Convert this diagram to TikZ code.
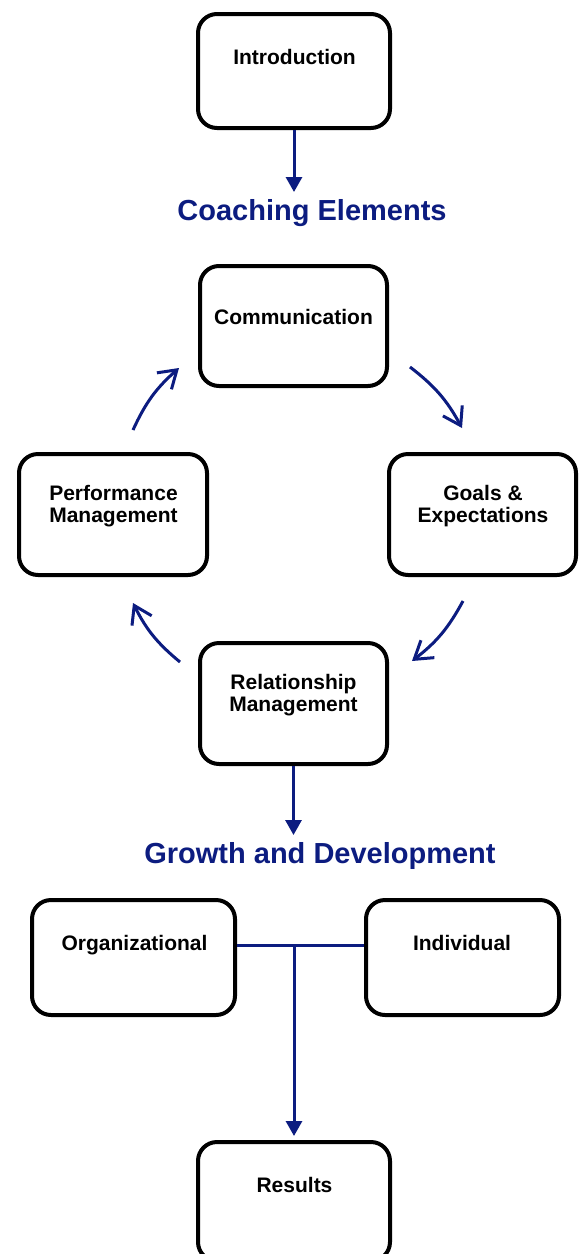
\documentclass[tikz,border=0pt]{standalone}
\usepackage{fontspec}
\setmainfont{Liberation Sans}
\usetikzlibrary{arrows.meta}
\definecolor{navy}{RGB}{12,28,128}
\begin{document}
\begin{tikzpicture}[x=1pt,y=-1pt,
  box/.style={draw=black, line width=4pt, rounded corners=19pt, inner sep=0pt},
  lbl/.style={font=\fontsize{21}{22}\selectfont\bfseries, align=center, anchor=base, inner sep=0pt},
  ttl/.style={font=\fontsize{29}{34}\selectfont\bfseries, text=navy, anchor=base, inner sep=0pt},
  flow/.style={draw=navy, line width=3pt, -{Triangle[length=15pt,width=16pt]}},
  cyc/.style={draw=navy, line width=3pt, -{Straight Barb[length=17pt,width=22pt]}, bend left=12},
  tee/.style={draw=navy, line width=3pt}]
\useasboundingbox[fill=white] (0,0) rectangle (579,1254);
% boxes and labels
\node[box, minimum width=192pt, minimum height=114pt] (intro) at (294,71) {};
\node[lbl] (introl) at (294.5,64) {Introduction};
\node[ttl] (ce) at (312,220) {Coaching Elements};
\node[box, minimum width=187pt, minimum height=120pt] (comm) at (293.5,326) {};
\node[lbl] (comml) at (293.5,324) {Communication};
\node[box, minimum width=188pt, minimum height=121pt] (perf) at (113,514.5) {};
\node[lbl] (perfl) at (113.5,522) {Performance\\Management};
\node[box, minimum width=187pt, minimum height=121pt] (goals) at (482.5,514.5) {};
\node[lbl] (goalsl) at (483,522) {Goals \&\\Expectations};
\node[box, minimum width=187pt, minimum height=121pt] (rel) at (293.5,703.5) {};
\node[lbl] (rell) at (293.5,711) {Relationship\\Management};
\node[ttl] (gd) at (320,863) {Growth and Development};
\node[box, minimum width=203pt, minimum height=115pt] (org) at (133.5,957.5) {};
\node[lbl] (orgl) at (134.5,950) {Organizational};
\node[box, minimum width=193pt, minimum height=115pt] (ind) at (462.5,957.5) {};
\node[lbl] (indl) at (462,950) {Individual};
\node[box, minimum width=192pt, minimum height=119pt] (res) at (294,1201.5) {};
\node[lbl] (resl) at (294.5,1192) {Results};
% straight connectors
\coordinate (t1) at (294,192);
\draw[flow] (intro.south) -- (t1);
\coordinate (t2) at (293.5,835);
\draw[flow] (rel.south) -- (t2);
\coordinate (j) at (294,945);
\draw[tee] (org.east |- j) -- (ind.west |- j);
\draw[flow, shorten >=4pt] (j) -- (res.north);
% cycle arrows
\coordinate (c1s) at (410,367); \coordinate (c1e) at (462,428);
\coordinate (c2s) at (463,601); \coordinate (c2e) at (412,661);
\coordinate (c3s) at (180,662); \coordinate (c3e) at (133,603);
\coordinate (c4s) at (133,430); \coordinate (c4e) at (179,368);
\draw[cyc] (c1s) to (c1e);
\draw[cyc] (c2s) to (c2e);
\draw[cyc] (c3s) to (c3e);
\draw[cyc] (c4s) to (c4e);
\end{tikzpicture}
\end{document}
